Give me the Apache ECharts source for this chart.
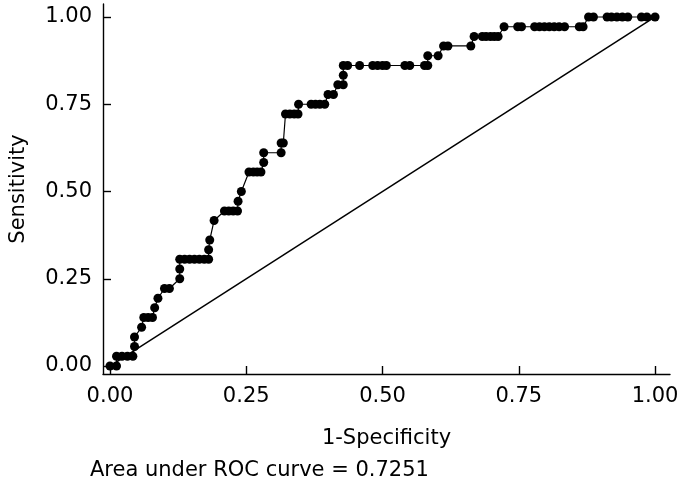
<!DOCTYPE html>
<html>
<head>
<meta charset="utf-8">
<script src="https://cdn.jsdelivr.net/npm/echarts@6/dist/echarts.min.js"></script>
<style>html,body{margin:0;padding:0;background:#fff}#c{width:684px;height:492px}</style>
</head>
<body>
<div id="c"></div>
<script>
// 1-Specificity (false positive rate) of each ROC point
var fpr = [0, 0.012, 0.012, 0.022, 0.032, 0.042, 0.045, 0.045, 0.058, 0.062, 0.07, 0.078, 0.082, 0.088,
  0.1, 0.109, 0.128, 0.128, 0.128, 0.137, 0.146, 0.155, 0.164, 0.173, 0.181, 0.181, 0.183, 0.191,
  0.21, 0.218, 0.226, 0.234, 0.235, 0.241, 0.255, 0.263, 0.27, 0.277, 0.282, 0.282, 0.314, 0.314,
  0.318, 0.322, 0.33, 0.338, 0.345, 0.346, 0.369, 0.377, 0.385, 0.394, 0.4, 0.41, 0.418, 0.428,
  0.428, 0.428, 0.436, 0.458, 0.482, 0.491, 0.5, 0.507, 0.541, 0.55, 0.577, 0.583, 0.583, 0.602,
  0.612, 0.62, 0.662, 0.668, 0.683, 0.69, 0.698, 0.705, 0.712, 0.723, 0.748, 0.755, 0.779, 0.788,
  0.797, 0.806, 0.815, 0.824, 0.834, 0.861, 0.868, 0.878, 0.887, 0.912, 0.92, 0.93, 0.94, 0.95,
  0.975, 0.985, 1];
// Sensitivity (true positive rate) of each ROC point
var tpr = [0, 0, 0.028, 0.028, 0.028, 0.028, 0.056, 0.083, 0.111, 0.139, 0.139, 0.139, 0.167, 0.194,
  0.222, 0.222, 0.25, 0.278, 0.306, 0.306, 0.306, 0.306, 0.306, 0.306, 0.306, 0.333, 0.361, 0.417,
  0.444, 0.444, 0.444, 0.444, 0.472, 0.5, 0.556, 0.556, 0.556, 0.556, 0.583, 0.611, 0.611, 0.639,
  0.639, 0.722, 0.722, 0.722, 0.722, 0.75, 0.75, 0.75, 0.75, 0.75, 0.778, 0.778, 0.806, 0.806,
  0.833, 0.861, 0.861, 0.861, 0.861, 0.861, 0.861, 0.861, 0.861, 0.861, 0.861, 0.861, 0.889, 0.889,
  0.917, 0.917, 0.917, 0.944, 0.944, 0.944, 0.944, 0.944, 0.944, 0.972, 0.972, 0.972, 0.972, 0.972,
  0.972, 0.972, 0.972, 0.972, 0.972, 0.972, 0.972, 1, 1, 1, 1, 1, 1, 1,
  1, 1, 1];
var refX = [0, 1];
var refY = [0, 1];
var tickValues = [0, 0.25, 0.5, 0.75, 1];
var tickLabels = ['0.00', '0.25', '0.50', '0.75', '1.00'];
var xTitle = '1-Specificity';
var yTitle = 'Sensitivity';
var note = 'Area under ROC curve = 0.7251';

var rocData = fpr.map(function (x, i) { return [x, tpr[i]]; });
var refData = refX.map(function (x, i) { return [x, refY[i]]; });
var FONT = 'DejaVu Sans';
var FS = 21;

var chart = echarts.init(document.getElementById('c'), null, {renderer: 'canvas'});
function axisCommon(name, gap, rot) {
  return {
    type: 'value',
    name: name,
    nameLocation: 'middle',
    nameGap: gap,
    nameRotate: rot,
    nameTextStyle: {color: '#000', fontFamily: FONT, fontSize: FS},
    splitLine: {show: false},
    axisLine: {show: true, onZero: false, lineStyle: {color: '#000', width: 1.4}},
    axisTick: {show: true, inside: true, length: 8, customValues: tickValues, lineStyle: {color: '#000', width: 1.4}},
    axisLabel: {
      customValues: tickValues,
      color: '#000', fontFamily: FONT, fontSize: FS,
      formatter: function (v) { var i = tickValues.indexOf(v); return i >= 0 ? tickLabels[i] : ''; }
    }
  };
}
var xa = axisCommon(xTitle, 54, 0);
xa.min = -0.0128; xa.max = 1.0274;
xa.axisLabel.margin = 12;
var ya = axisCommon(yTitle, 74, 90);
ya.min = -0.0229; ya.max = 1.0372;
ya.axisLabel.margin = 11;

chart.setOption({
  animation: false,
  backgroundColor: '#fff',
  grid: {left: 100, top: 4, right: 14, bottom: 118, containLabel: false},
  xAxis: xa,
  yAxis: ya,
  graphic: [{
    type: 'text', left: 90, top: 460,
    style: {text: note, fill: '#000', font: FS + 'px "DejaVu Sans"'}
  }],
  series: [
    {
      type: 'line', data: refData, showSymbol: false, silent: true,
      lineStyle: {color: '#000', width: 1.5}
    },
    {
      type: 'line', data: rocData, symbol: 'circle', symbolSize: 9, showAllSymbol: true,
      itemStyle: {color: '#000'}, lineStyle: {color: '#000', width: 1.2}
    }
  ]
});
</script>
</body>
</html>
